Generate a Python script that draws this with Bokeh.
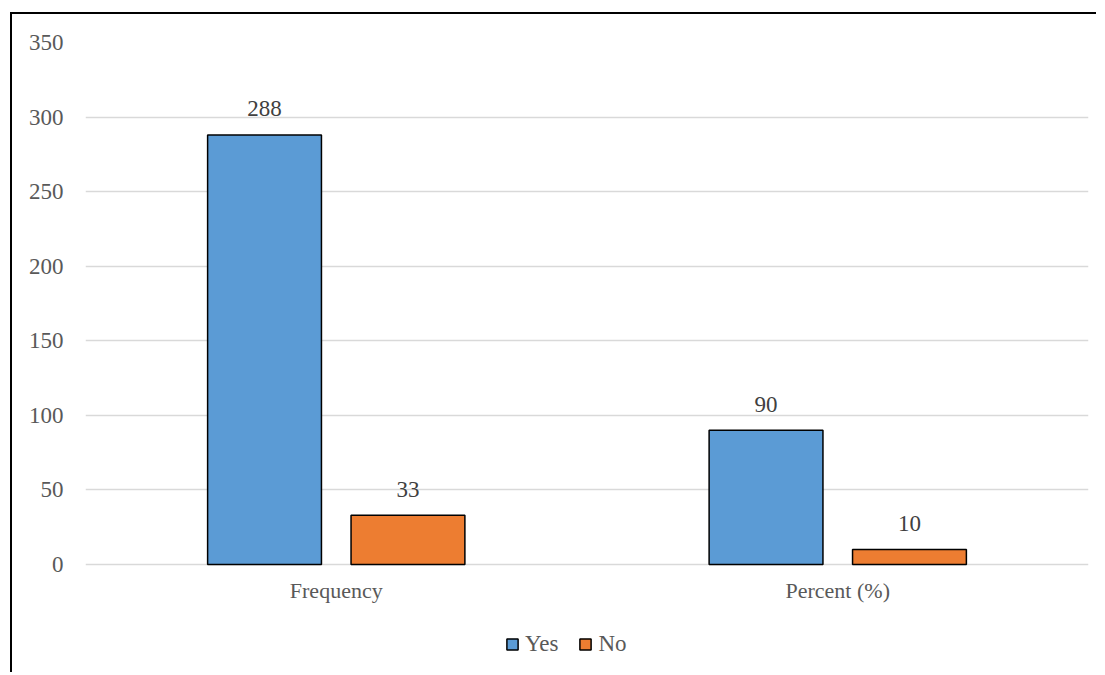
from bokeh.plotting import figure
from bokeh.models import (ColumnDataSource, FactorRange, FixedTicker, Legend, LegendItem,
                          Range1d)
from bokeh.transform import dodge
from bokeh.core.properties import value
from bokeh.embed import file_html
from bokeh.resources import INLINE

categories = ["Frequency", "Percent (%)"]
yes_values = [288, 90]
no_values = [33, 10]
y_ticks = [0, 50, 100, 150, 200, 250, 300, 350]

FONT = "Liberation Serif"
AXIS_COLOR = "#595959"
LABEL_COLOR = "#404040"
BLUE = "#5B9BD5"
ORANGE = "#ED7D31"

src = ColumnDataSource(dict(
    cat=categories,
    yes=yes_values,
    no=no_values,
    yes_lbl=[str(v) for v in yes_values],
    no_lbl=[str(v) for v in no_values],
))

# the plot area runs below 0 so that the category labels and the legend sit inside it
p = figure(
    width=1086, height=660,
    x_range=FactorRange(factors=categories, range_padding=0),
    y_range=Range1d(-73.75, 350),
    output_backend="svg", toolbar_location=None,
    min_border_left=73, min_border_top=28, min_border_right=10, min_border_bottom=0,
)
p.styles = {"border-left": "2px solid black", "border-top": "2px solid black",
            "margin-left": "10px", "margin-top": "12px", "padding-right": "6px"}
p.outline_line_color = None
p.background_fill_color = "white"
p.border_fill_color = "white"

OFF = 0.143
W = 0.227

r_yes = p.vbar(x=dodge("cat", -OFF, range=p.x_range), top="yes", width=W, source=src,
               fill_color=BLUE, line_color="black", line_width=1.5)
r_no = p.vbar(x=dodge("cat", OFF, range=p.x_range), top="no", width=W, source=src,
              fill_color=ORANGE, line_color="black", line_width=1.5)

for col, lbl, off in (("yes", "yes_lbl", -OFF), ("no", "no_lbl", OFF)):
    p.text(x=dodge("cat", off, range=p.x_range), y=col, text=lbl, source=src,
           text_align="center", text_baseline="middle", y_offset=-26,
           text_font=value(FONT), text_font_size="23px", text_color=LABEL_COLOR)

# axes
p.yaxis.ticker = FixedTicker(ticks=y_ticks)
p.yaxis.axis_line_color = None
p.yaxis.major_tick_line_color = None
p.yaxis.minor_tick_line_color = None
p.yaxis.major_tick_out = 0
p.yaxis.major_tick_in = 0
p.yaxis.minor_tick_out = 0
p.yaxis.major_label_standoff = 22
p.yaxis.major_label_text_font = FONT
p.yaxis.major_label_text_font_size = "23px"
p.yaxis.major_label_text_color = AXIS_COLOR

p.xaxis.fixed_location = 0
p.xaxis.axis_line_color = None
p.xaxis.major_tick_line_color = None
p.xaxis.minor_tick_line_color = None
p.xaxis.major_tick_out = 0
p.xaxis.major_tick_in = 0
p.xaxis.minor_tick_out = 0
p.xaxis.major_label_standoff = 13
p.xaxis.major_label_text_font = FONT
p.xaxis.major_label_text_font_size = "22px"
p.xaxis.major_label_text_color = AXIS_COLOR

p.xgrid.grid_line_color = None
p.ygrid.grid_line_color = "#D9D9D9"
p.ygrid.grid_line_width = 1.5

legend = Legend(
    items=[LegendItem(label="Yes", renderers=[r_yes]), LegendItem(label="No", renderers=[r_no])],
    orientation="horizontal", location=(420, 17),
    glyph_width=14, glyph_height=14, label_standoff=6, spacing=20,
    padding=0, margin=0, border_line_color=None, background_fill_alpha=0,
    label_text_font=FONT, label_text_font_size="23px", label_text_color=AXIS_COLOR,
    label_height=14,
)
p.add_layout(legend, "center")

open("out.html", "w").write(file_html(p, INLINE))
